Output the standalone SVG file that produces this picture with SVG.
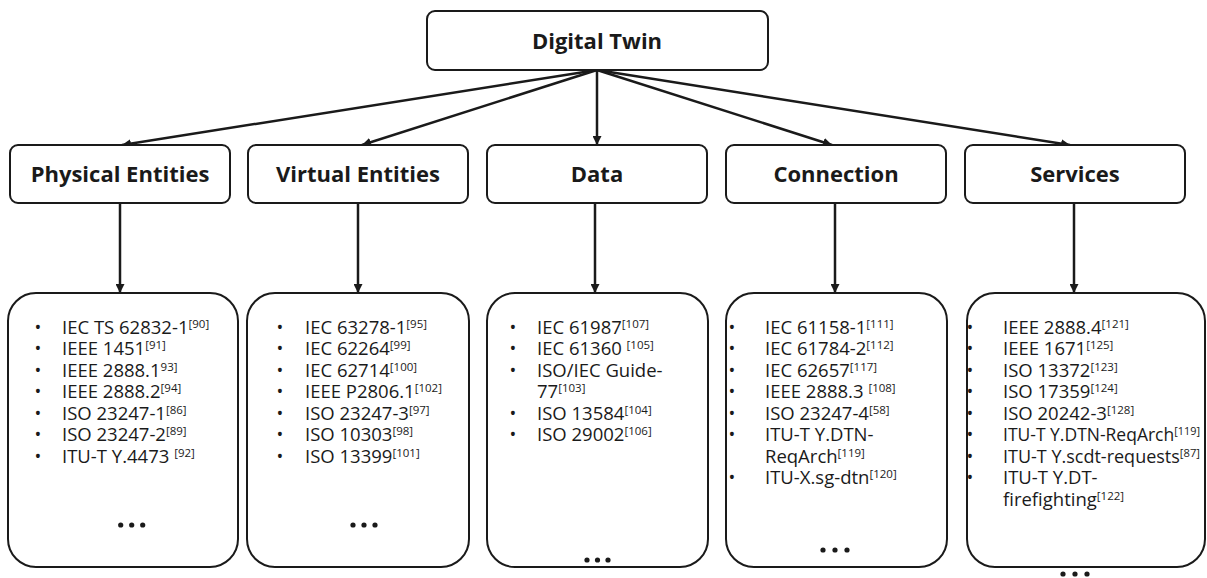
<svg xmlns="http://www.w3.org/2000/svg" width="1207" height="578" viewBox="0 0 1207 578">
<style>
.box{fill:#fff;stroke:#1a1a1a;stroke-width:2}
.h{font-family:"Open Sans","Noto Sans","Liberation Sans",sans-serif;font-weight:700;font-size:22px;fill:#1a1a1a;text-anchor:middle}
.t{font-family:"Open Sans","Noto Sans","Liberation Sans",sans-serif;font-size:18.5px;fill:#1a1a1a}
.b{font-family:"Open Sans","Noto Sans","Liberation Sans",sans-serif;font-size:18px;fill:#1a1a1a;text-anchor:middle}
.s{font-size:11.5px}
.c{stroke:#1a1a1a;stroke-width:2.5;fill:none}
.dot{fill:#1a1a1a}
</style>
<defs>
<marker id="ah" markerUnits="userSpaceOnUse" markerWidth="10" markerHeight="9" refX="9" refY="4.5" orient="auto">
<path d="M0,0 L9,4.5 L0,9 z" fill="#1a1a1a"/>
</marker>
</defs>
<rect width="1207" height="578" fill="#fff"/>

<g id="connectors">
<line class="c" x1="597" y1="70" x2="122" y2="145" marker-end="url(#ah)"/>
<line class="c" x1="597" y1="70" x2="362" y2="145" marker-end="url(#ah)"/>
<line class="c" x1="597" y1="70" x2="597" y2="145" marker-end="url(#ah)"/>
<line class="c" x1="597" y1="70" x2="832" y2="145" marker-end="url(#ah)"/>
<line class="c" x1="597" y1="70" x2="1070" y2="145" marker-end="url(#ah)"/>
<line class="c" x1="120" y1="203" x2="120" y2="293" marker-end="url(#ah)"/>
<line class="c" x1="358" y1="203" x2="358" y2="293" marker-end="url(#ah)"/>
<line class="c" x1="595" y1="203" x2="595" y2="293" marker-end="url(#ah)"/>
<line class="c" x1="835" y1="203" x2="835" y2="293" marker-end="url(#ah)"/>
<line class="c" x1="1074" y1="203" x2="1074" y2="293" marker-end="url(#ah)"/>
</g>

<g id="digital-twin">
<rect class="box" x="427" y="11" width="341" height="59" rx="8"/>
<text class="h" x="597" y="49">Digital Twin</text>
</g>

<g id="physical-entities">
<rect class="box" x="10" y="145" width="220" height="58" rx="8"/>
<text class="h" x="120" y="182">Physical Entities</text>
</g>
<g id="virtual-entities">
<rect class="box" x="248" y="145" width="220" height="58" rx="8"/>
<text class="h" x="358" y="182">Virtual Entities</text>
</g>
<g id="data">
<rect class="box" x="487" y="145" width="220" height="58" rx="8"/>
<text class="h" x="597" y="182">Data</text>
</g>
<g id="connection">
<rect class="box" x="726" y="145" width="220" height="58" rx="8"/>
<text class="h" x="836" y="182">Connection</text>
</g>
<g id="services">
<rect class="box" x="965" y="145" width="220" height="58" rx="8"/>
<text class="h" x="1075" y="182">Services</text>
</g>

<g id="physical-standards">
<rect class="box" x="8" y="293" width="230" height="274" rx="28"/>
<text class="b" x="38" y="333.6">•</text>
<text class="b" x="38" y="355.1">•</text>
<text class="b" x="38" y="376.6">•</text>
<text class="b" x="38" y="398.1">•</text>
<text class="b" x="38" y="419.6">•</text>
<text class="b" x="38" y="441.1">•</text>
<text class="b" x="38" y="462.6">•</text>
<text class="t" x="62" y="333.6">IEC TS 62832-1<tspan class="s" dy="-6">[90]</tspan></text>
<text class="t" x="62" y="355.1">IEEE 1451<tspan class="s" dy="-6">[91]</tspan></text>
<text class="t" x="62" y="376.6">IEEE 2888.1<tspan class="s" dy="-6">93]</tspan></text>
<text class="t" x="62" y="398.1">IEEE 2888.2<tspan class="s" dy="-6">[94]</tspan></text>
<text class="t" x="62" y="419.6">ISO 23247-1<tspan class="s" dy="-6">[86]</tspan></text>
<text class="t" x="62" y="441.1">ISO 23247-2<tspan class="s" dy="-6">[89]</tspan></text>
<text class="t" x="62" y="462.6">ITU-T Y.4473 <tspan class="s" dy="-6">[92]</tspan></text>
<circle class="dot" cx="120.7" cy="525" r="2.6"/>
<circle class="dot" cx="131.7" cy="525" r="2.6"/>
<circle class="dot" cx="142.7" cy="525" r="2.6"/>
</g>

<g id="virtual-standards">
<rect class="box" x="247" y="293" width="222" height="274" rx="28"/>
<text class="b" x="280" y="333.6">•</text>
<text class="b" x="280" y="355.1">•</text>
<text class="b" x="280" y="376.6">•</text>
<text class="b" x="280" y="398.1">•</text>
<text class="b" x="280" y="419.6">•</text>
<text class="b" x="280" y="441.1">•</text>
<text class="b" x="280" y="462.6">•</text>
<text class="t" x="305" y="333.6">IEC 63278-1<tspan class="s" dy="-6">[95]</tspan></text>
<text class="t" x="305" y="355.1">IEC 62264<tspan class="s" dy="-6">[99]</tspan></text>
<text class="t" x="305" y="376.6">IEC 62714<tspan class="s" dy="-6">[100]</tspan></text>
<text class="t" x="305" y="398.1">IEEE P2806.1<tspan class="s" dy="-6">[102]</tspan></text>
<text class="t" x="305" y="419.6">ISO 23247-3<tspan class="s" dy="-6">[97]</tspan></text>
<text class="t" x="305" y="441.1">ISO 10303<tspan class="s" dy="-6">[98]</tspan></text>
<text class="t" x="305" y="462.6">ISO 13399<tspan class="s" dy="-6">[101]</tspan></text>
<circle class="dot" cx="353" cy="525" r="2.6"/>
<circle class="dot" cx="364" cy="525" r="2.6"/>
<circle class="dot" cx="375" cy="525" r="2.6"/>
</g>

<g id="data-standards">
<rect class="box" x="487" y="293" width="221" height="274" rx="28"/>
<text class="b" x="513" y="333.6">•</text>
<text class="b" x="513" y="355.1">•</text>
<text class="b" x="513" y="376.6">•</text>
<text class="b" x="513" y="419.6">•</text>
<text class="b" x="513" y="441.1">•</text>
<text class="t" x="537" y="333.6">IEC 61987<tspan class="s" dy="-6">[107]</tspan></text>
<text class="t" x="537" y="355.1">IEC 61360 <tspan class="s" dy="-6">[105]</tspan></text>
<text class="t" x="537" y="376.6">ISO/IEC Guide-</text>
<text class="t" x="537" y="398.1">77<tspan class="s" dy="-6">[103]</tspan></text>
<text class="t" x="537" y="419.6">ISO 13584<tspan class="s" dy="-6">[104]</tspan></text>
<text class="t" x="537" y="441.1">ISO 29002<tspan class="s" dy="-6">[106]</tspan></text>
<circle class="dot" cx="587" cy="560" r="2.6"/>
<circle class="dot" cx="597.5" cy="560" r="2.6"/>
<circle class="dot" cx="608" cy="560" r="2.6"/>
</g>

<g id="connection-standards">
<rect class="box" x="726" y="293" width="221" height="274" rx="28"/>
<text class="b" x="732" y="333.6">•</text>
<text class="b" x="732" y="355.1">•</text>
<text class="b" x="732" y="376.6">•</text>
<text class="b" x="732" y="398.1">•</text>
<text class="b" x="732" y="419.6">•</text>
<text class="b" x="732" y="441.1">•</text>
<text class="b" x="732" y="484.1">•</text>
<text class="t" x="765" y="333.6">IEC 61158-1<tspan class="s" dy="-6">[111]</tspan></text>
<text class="t" x="765" y="355.1">IEC 61784-2<tspan class="s" dy="-6">[112]</tspan></text>
<text class="t" x="765" y="376.6">IEC 62657<tspan class="s" dy="-6">[117]</tspan></text>
<text class="t" x="765" y="398.1">IEEE 2888.3 <tspan class="s" dy="-6">[108]</tspan></text>
<text class="t" x="765" y="419.6">ISO 23247-4<tspan class="s" dy="-6">[58]</tspan></text>
<text class="t" x="765" y="441.1">ITU-T Y.DTN-</text>
<text class="t" x="765" y="462.6">ReqArch<tspan class="s" dy="-6">[119]</tspan></text>
<text class="t" x="765" y="484.1">ITU-X.sg-dtn<tspan class="s" dy="-6">[120]</tspan></text>
<circle class="dot" cx="823" cy="550" r="2.6"/>
<circle class="dot" cx="835" cy="550" r="2.6"/>
<circle class="dot" cx="847" cy="550" r="2.6"/>
</g>

<g id="services-standards">
<rect class="box" x="967" y="293" width="238" height="274" rx="28"/>
<text class="b" x="970" y="333.6">•</text>
<text class="b" x="970" y="355.1">•</text>
<text class="b" x="970" y="376.6">•</text>
<text class="b" x="970" y="398.1">•</text>
<text class="b" x="970" y="419.6">•</text>
<text class="b" x="970" y="441.1">•</text>
<text class="b" x="970" y="462.6">•</text>
<text class="b" x="970" y="484.1">•</text>
<text class="t" x="1003" y="333.6">IEEE 2888.4<tspan class="s" dy="-6">[121]</tspan></text>
<text class="t" x="1003" y="355.1">IEEE 1671<tspan class="s" dy="-6">[125]</tspan></text>
<text class="t" x="1003" y="376.6">ISO 13372<tspan class="s" dy="-6">[123]</tspan></text>
<text class="t" x="1003" y="398.1">ISO 17359<tspan class="s" dy="-6">[124]</tspan></text>
<text class="t" x="1003" y="419.6">ISO 20242-3<tspan class="s" dy="-6">[128]</tspan></text>
<text class="t" x="1003" y="441.1" textLength="197" lengthAdjust="spacingAndGlyphs">ITU-T Y.DTN-ReqArch<tspan class="s" dy="-6">[119]</tspan></text>
<text class="t" x="1003" y="462.6" textLength="197" lengthAdjust="spacingAndGlyphs">ITU-T Y.scdt-requests<tspan class="s" dy="-6">[87]</tspan></text>
<text class="t" x="1003" y="484.1">ITU-T Y.DT-</text>
<text class="t" x="1003" y="505.6">firefighting<tspan class="s" dy="-6">[122]</tspan></text>
<circle class="dot" cx="1063" cy="574" r="2.6"/>
<circle class="dot" cx="1075" cy="574" r="2.6"/>
<circle class="dot" cx="1087" cy="574" r="2.6"/>
</g>
</svg>
